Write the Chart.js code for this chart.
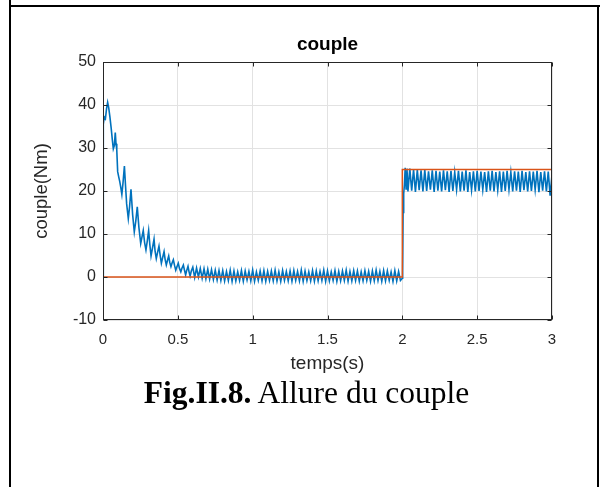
<!DOCTYPE html>
<html><head><meta charset="utf-8">
<script src="https://cdn.jsdelivr.net/npm/chart.js@4/dist/chart.umd.min.js"></script>
<style>
html,body{margin:0;padding:0;background:#fff;}
#wrap{position:relative;width:605px;height:487px;overflow:hidden;background:#fff;}
#c{position:absolute;left:0;top:0;}
.bl{position:absolute;background:#000;}
#cap{position:absolute;left:4px;width:605px;top:375px;text-align:center;font-family:"Liberation Serif","Times New Roman",serif;font-size:31.5px;color:#000;line-height:36px;white-space:nowrap;}
</style></head><body>
<div id="wrap">
<canvas id="c" width="605" height="487"></canvas>
<div class="bl" style="left:9px;top:0;width:2px;height:487px"></div>
<div class="bl" style="left:9px;top:5px;width:591px;height:2px"></div>
<div class="bl" style="left:597px;top:5px;width:2px;height:482px"></div>
<div id="cap"><b>Fig.II.8.</b> Allure du couple</div>
</div>
<script>
// ---- data ----
const xTicks = [0, 0.5, 1, 1.5, 2, 2.5, 3];
const yTicks = [-10, 0, 10, 20, 30, 40, 50];

// start-up transient (explicit times)
const tDemarrage = [0, 0.002, 0.008, 0.016, 0.024, 0.031, 0.038, 0.046, 0.055, 0.062, 0.069, 0.076, 0.082, 0.087, 0.092, 0.098, 0.105, 0.112, 0.119, 0.126, 0.134, 0.143, 0.15, 0.158, 0.169, 0.178, 0.187, 0.198, 0.209, 0.219, 0.229, 0.24, 0.252, 0.26, 0.269, 0.278, 0.287, 0.296, 0.305, 0.313, 0.321, 0.331, 0.341, 0.348, 0.356, 0.365, 0.374, 0.382, 0.39, 0.399, 0.408, 0.415, 0.423, 0.431, 0.439, 0.446, 0.454, 0.462, 0.47, 0.478, 0.486, 0.494, 0.503, 0.511, 0.52, 0.528, 0.537, 0.545, 0.552, 0.56, 0.568, 0.575, 0.582, 0.59];
const cDemarrage = [0, 35.5, 37.2, 36.8, 39.2, 40.6, 39.4, 37.3, 34.5, 32.0, 29.8, 30.6, 33.6, 31.0, 29.6, 24.5, 23.3, 22.2, 20.8, 19.2, 22.0, 25.8, 21.5, 17.0, 13.6, 16.5, 20.4, 14.5, 10.5, 13.0, 16.3, 11.5, 7.8, 9.2, 10.8, 8.0, 6.3, 8.4, 10.8, 7.5, 4.9, 6.8, 8.8, 6.0, 4.3, 5.8, 7.2, 5.0, 3.2, 4.6, 5.9, 4.1, 2.8, 3.9, 4.9, 3.4, 2.4, 3.3, 4.0, 2.7, 1.6, 2.4, 3.2, 2.0, 1.2, 2.1, 2.8, 1.5, 0.5, 1.6, 2.5, 1.2, 0.2, 1.4];

// no-load regime, sampled every 0.0125 s from t = 0.6 to t = 2.0
const palier0Debut = 0.6;
const pasEchant = 0.0125;
const cPalier0 = [2.3, -0.1, 2.1, 0.0, 2.0, -0.3, 1.9, -0.4, 1.8, -0.5, 1.7, -0.6, 1.6, -0.7, 1.5, -0.8,
 1.5, -0.9, 1.3, -0.8, 1.6, -1.0, 1.4, -0.9, 1.2, -0.8, 1.5, -1.0, 1.4, -0.7, 1.3, -0.9, 1.6, -1.0, 1.2, -0.8,
 1.4, -0.9, 1.5, -1.0, 1.3, -0.8, 1.4, -0.9, 1.6, -0.9, 1.2, -1.0, 1.5, -0.8, 1.3, -0.9, 1.4, -1.0, 1.5, -0.8,
 1.3, -0.9, 1.6, -1.0, 1.4, -0.8, 1.2, -0.9, 1.5, -1.0, 1.4, -0.9, 1.3, -0.8, 1.6, -1.0, 1.4, -0.9, 1.2, -0.8,
 1.5, -1.0, 1.3, -0.9, 1.4, -0.8, 1.6, -1.0, 1.3, -0.9, 1.5, -0.8, 1.4, -1.0, 1.2, -0.9, 1.5, -0.8, 1.3, -1.0,
 1.4, -0.9, 1.6, -0.8, 1.3, -1.0, 1.5, -0.9, 1.4, -0.8, 1.2, -1.0, 1.5, -0.9, 1.3, -0.8, -0.3];

// load step at t = 2 s (explicit times)
const tEchelon = [2.002, 2.005, 2.009, 2.014, 2.019, 2.025, 2.031];
const cEchelon = [1.0, 15.0, 19.4, 21.5, 25.4, 20.5, 25.2];

// loaded regime, sampled every 0.0125 s from t = 2.0375 to t = 3.0
const palier1Debut = 2.0375;
const cPalier1 = [19.9, 25.2, 20.1, 25.0, 19.8, 24.9, 20.2, 24.8, 19.9, 24.9, 20.0, 24.6, 20.3, 24.8, 19.8, 24.7, 20.1, 24.5, 19.9, 24.8,
 20.2, 24.6, 19.8, 24.7, 20.0, 24.4, 20.3, 24.7, 19.9, 24.5, 20.1, 24.8, 19.8, 24.4, 20.2, 24.6, 19.9, 24.7, 20.0, 24.5,
 20.3, 24.4, 19.8, 24.6, 20.1, 24.7, 19.9, 24.4, 20.2, 24.6, 19.8, 24.5, 20.0, 24.7, 20.3, 24.4, 19.9, 24.6, 20.1, 24.5,
 19.8, 24.7, 20.2, 24.4, 19.9, 24.6, 20.0, 24.5, 20.3, 24.7, 19.7, 24.4, 20.1, 24.6, 19.9, 24.5, 18.9, 23.8];

// reference torque
const tRef = [0, 2, 2, 3];
const cRef = [0, 0, 25, 25];

const chartTitle = 'couple';

// ---- build point lists ----
const bluePts = [];
tDemarrage.forEach((t, i) => bluePts.push({x: t, y: cDemarrage[i]}));
cPalier0.forEach((v, i) => bluePts.push({x: palier0Debut + i * pasEchant, y: v}));
tEchelon.forEach((t, i) => bluePts.push({x: t, y: cEchelon[i]}));
cPalier1.forEach((v, i) => bluePts.push({x: palier1Debut + i * pasEchant, y: v}));
const refPts = tRef.map((t, i) => ({x: t, y: cRef[i]}));

const FONT = '"Liberation Sans", Arial, Helvetica, sans-serif';
const AXC = '#262626';

const boxPlugin = {
  id: 'matlabBox',
  afterDraw(chart) {
    const {ctx, chartArea: a, scales} = chart;
    ctx.save();
    // title centred over the plot box
    ctx.fillStyle = '#000';
    ctx.font = 'bold 19px ' + FONT;
    ctx.textAlign = 'center';
    ctx.textBaseline = 'middle';
    ctx.fillText(chartTitle, (a.left + a.right) / 2, 45);
    ctx.strokeStyle = AXC;
    ctx.lineWidth = 1;
    const L = Math.round(a.left) + 0.5, R = Math.round(a.right) - 0.5;
    const T = Math.round(a.top) + 0.5, B = Math.round(a.bottom) - 0.5;
    ctx.strokeRect(L, T, R - L, B - T);
    const tl = 4;
    ctx.beginPath();
    scales.x.ticks.forEach(tk => {
      const px = Math.round(scales.x.getPixelForValue(tk.value)) + 0.5;
      ctx.moveTo(px, B); ctx.lineTo(px, B - tl);
      ctx.moveTo(px, T); ctx.lineTo(px, T + tl);
    });
    scales.y.ticks.forEach(tk => {
      const py = Math.round(scales.y.getPixelForValue(tk.value)) + 0.5;
      ctx.moveTo(L, py); ctx.lineTo(L + tl, py);
      ctx.moveTo(R, py); ctx.lineTo(R - tl, py);
    });
    ctx.stroke();
    ctx.restore();
  }
};

new Chart(document.getElementById('c').getContext('2d'), {
  type: 'line',
  data: {
    datasets: [
      {label: 'couple', data: bluePts, borderColor: '#0072BD', borderWidth: 1.6, pointRadius: 0, tension: 0, fill: false, order: 1},
      {label: 'référence', data: refPts, borderColor: '#D95319', borderWidth: 1.5, pointRadius: 0, tension: 0, fill: false, order: 0}
    ]
  },
  options: {
    responsive: false,
    animation: false,
    layout: {padding: {left: 0, right: 53, top: 62, bottom: 0}},
    plugins: {
      legend: {display: false},
      tooltip: {enabled: false},
      title: {display: false}
    },
    scales: {
      x: {
        type: 'linear', min: 0, max: 3,
        afterBuildTicks(s) { s.ticks = xTicks.map(v => ({value: v})); },
        afterFit(s) { s.height = 167; },
        ticks: {color: AXC, padding: 11, maxRotation: 0, font: {family: FONT, size: 15}, callback: v => String(v)},
        grid: {color: '#e2e2e2', lineWidth: 1, drawTicks: false},
        border: {display: false},
        title: {display: true, text: 'temps(s)', color: AXC, font: {family: FONT, size: 19}, padding: {top: 0, bottom: 112}}
      },
      y: {
        type: 'linear', min: -10, max: 50,
        afterBuildTicks(s) { s.ticks = yTicks.map(v => ({value: v})); },
        afterFit(s) { s.width = 103; },
        ticks: {color: AXC, padding: 7, font: {family: FONT, size: 16}, callback: v => String(v)},
        grid: {color: '#e2e2e2', lineWidth: 1, drawTicks: false},
        border: {display: false},
        title: {display: true, text: 'couple(Nm)', color: AXC, font: {family: FONT, size: 18.5}, padding: {top: 31, bottom: 0}}
      }
    }
  },
  plugins: [boxPlugin]
});
</script>
</body></html>
